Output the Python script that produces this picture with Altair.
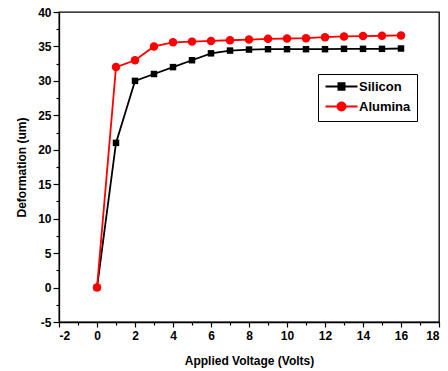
import altair as alt
import pandas as pd

voltage = [0, 1, 2, 3, 4, 5, 6, 7, 8, 9, 10, 11, 12, 13, 14, 15, 16]
silicon = [0, 21.0, 30.0, 31.0, 32.0, 33.0, 34.0, 34.4, 34.55, 34.6, 34.6, 34.6, 34.6, 34.65, 34.65, 34.65, 34.7]
alumina = [0, 32.0, 33.0, 35.0, 35.6, 35.7, 35.8, 35.9, 36.0, 36.1, 36.15, 36.2, 36.35, 36.45, 36.5, 36.55, 36.6]
series_names = ["Silicon", "Alumina"]
series_colors = ["black", "red"]
x_ticks = list(range(-2, 19))
y_ticks = [v * 2.5 for v in range(-2, 17)]

df = pd.DataFrame({
    "v": voltage * 2,
    "d": silicon + alumina,
    "s": ["Silicon"] * len(voltage) + ["Alumina"] * len(voltage),
})

FONT = "Liberation Sans"
axis_style = dict(
    grid=False, domainColor="black", domainWidth=1.3, tickColor="black", tickWidth=1.2,
    labelFont=FONT, labelFontSize=12, labelFontWeight="bold", labelColor="black",
    titleFont=FONT, titleFontSize=12, titleFontWeight="bold", titleColor="black",
)

xenc = alt.X(
    "v:Q",
    scale=alt.Scale(domain=[-2, 18], nice=False, zero=False),
    axis=alt.Axis(
        values=x_ticks,
        labelExpr="datum.value % 2 == 0 ? '' + datum.value : ''",
        tickSize={"condition": {"test": "datum.value % 2 != 0", "value": 3}, "value": 5},
        title="Applied Voltage (Volts)",
        labelPadding=3,
        titlePadding=14,
        **axis_style,
    ),
)
yenc = alt.Y(
    "d:Q",
    scale=alt.Scale(domain=[-5, 40], nice=False, zero=False),
    axis=alt.Axis(
        values=y_ticks,
        labelExpr="datum.value % 5 == 0 ? '' + datum.value : ''",
        tickSize={"condition": {"test": "datum.value % 5 != 0", "value": 3}, "value": 6},
        title="Deformation (um)",
        labelPadding=2,
        titlePadding=9,
        **axis_style,
    ),
)

base = alt.Chart(df)
layers = []
for name, col in zip(series_names, series_colors):
    sub = base.transform_filter(alt.datum.s == name)
    layers.append(sub.mark_line(color=col, strokeWidth=1.8).encode(x=xenc, y=yenc))
    if name == "Silicon":
        layers.append(sub.mark_square(color=col, size=42, opacity=1).encode(x=xenc, y=yenc))
    else:
        layers.append(sub.mark_circle(color=col, size=72, opacity=1).encode(x=xenc, y=yenc))

sq_path = "M-1,0H5.4M1.6,-0.65H2.8V0.65H1.6Z"
ci_path = "M-1,0H5.4M3.0,0A0.8,0.8 0 1,1 1.4,0A0.8,0.8 0 1,1 3.0,0Z"

leg = dict(title=None, orient="none", legendX=259, legendY=62)
legend_layer = base.transform_filter("false").mark_point(filled=True, opacity=1, strokeWidth=2).encode(
    shape=alt.Shape("s:N", scale=alt.Scale(domain=series_names, range=[sq_path, ci_path]),
                    legend=alt.Legend(**leg)),
    fill=alt.Fill("s:N", scale=alt.Scale(domain=series_names, range=series_colors), legend=alt.Legend(**leg)),
    stroke=alt.Stroke("s:N", scale=alt.Scale(domain=series_names, range=series_colors), legend=alt.Legend(**leg)),
)

chart = alt.layer(*layers, legend_layer).properties(
    width=380, height=310,
    autosize=alt.AutoSizeParams(type="none"),
    padding={"left": 59, "top": 12, "right": 9, "bottom": 49},
    background="white",
).configure_view(
    stroke="black", strokeWidth=1.3,
).configure_legend(
    strokeColor="black", padding=6, labelOffset=22, rowPadding=4, labelFontSize=13,
    labelFontWeight="bold", labelFont=FONT, labelColor="black", symbolStrokeWidth=2,
    symbolSize=100, cornerRadius=0, fillColor="white",
)

chart.save("out.html", embed_options={"renderer": "svg", "actions": False})
